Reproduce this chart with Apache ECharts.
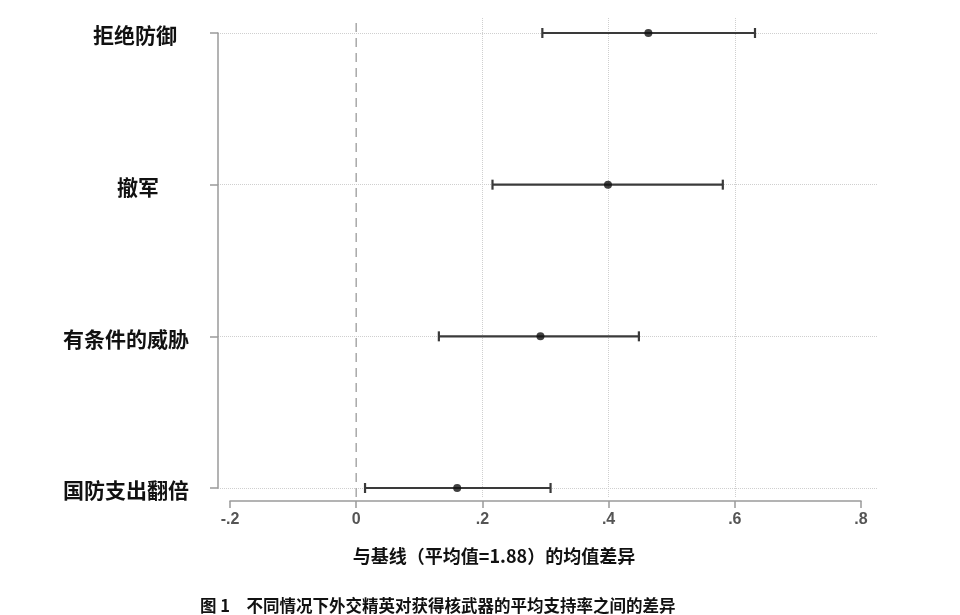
<!DOCTYPE html>
<html>
<head>
<meta charset="utf-8">
<script src="https://cdn.jsdelivr.net/npm/echarts@6/dist/echarts.min.js"></script>
<style>html,body{margin:0;padding:0;background:#fff}#c{width:960px;height:615px}</style>
</head>
<body>
<div id="c"></div>
<script>
var categories = ['拒绝防御', '撤军', '有条件的威胁', '国防支出翻倍'];
var means = [0.463, 0.399, 0.292, 0.160];
var lower = [0.295, 0.216, 0.131, 0.014];
var upper = [0.632, 0.581, 0.448, 0.308];
var xTicks = [-0.2, 0, 0.2, 0.4, 0.6, 0.8];
var xTickLabels = ['-.2', '0', '.2', '.4', '.6', '.8'];
var referenceValue = 0;
var xTitle = '与基线（平均值=1.88）的均值差异';
var caption = '图 1　不同情况下外交精英对获得核武器的平均支持率之间的差异';

var chart = echarts.init(document.getElementById('c'), null, {renderer: 'canvas'});

var errData = categories.map(function (c, i) { return [lower[i], upper[i], i]; });
var meanData = categories.map(function (c, i) { return [means[i], i]; });

var labelBase = {fontFamily: 'Noto Sans CJK SC', fontSize: 21, fontWeight: 'bold', color: '#111'};
var labelRich = {
  r0: Object.assign({padding: [5, 12, 0, 0]}, labelBase),
  r1: Object.assign({padding: [5, 30, 0, 0]}, labelBase),
  r2: Object.assign({padding: [5, 0, 0, 0]}, labelBase),
  r3: Object.assign({padding: [5, 0, 0, 0]}, labelBase)
};

var option = {
  backgroundColor: '#ffffff',
  animation: false,
  title: [
    {text: xTitle, left: 489, top: 542, textAlign: 'center',
     textStyle: {fontFamily: 'Noto Sans CJK SC', fontSize: 18, fontWeight: 'bold', color: '#111'}},
    {text: caption, left: 195, top: 592,
     textStyle: {fontFamily: 'Noto Sans CJK SC', fontSize: 16.5, fontWeight: 'bold', color: '#111'}}
  ],
  grid: [
    {left: 218, right: 83, top: 33, bottom: 127},
    {left: 230, right: 99, top: 33, bottom: 127},
    {left: 230, right: 99, top: 18, bottom: 118}
  ],
  xAxis: [
    {gridIndex: 0, type: 'value', min: 0, max: 1, show: false},
    {gridIndex: 1, type: 'value', min: -0.2, max: 0.8, interval: 0.2,
     offset: 13,
     axisLine: {show: true, lineStyle: {color: '#9a9a9a', width: 1.5}},
     axisTick: {show: true, inside: false, length: 7, lineStyle: {color: '#9a9a9a', width: 1.5}},
     splitLine: {show: false},
     axisLabel: {margin: 11, fontFamily: 'Liberation Sans', fontSize: 16, fontWeight: 'bold', color: '#555',
       formatter: function (v) {
         for (var k = 0; k < xTicks.length; k++) { if (Math.abs(xTicks[k] - v) < 1e-6) return xTickLabels[k]; }
         return '';
       }}},
    {gridIndex: 2, type: 'value', min: -0.2, max: 0.8, interval: 0.2,
     axisLine: {show: false}, axisTick: {show: false}, axisLabel: {show: false},
     splitLine: {show: true, lineStyle: {type: 'dotted', width: 1,
       color: ['rgba(0,0,0,0)', 'rgba(0,0,0,0)', '#cfcfcf', '#cfcfcf', '#cfcfcf', 'rgba(0,0,0,0)']}}}
  ],
  yAxis: [
    {gridIndex: 0, type: 'category', data: categories, inverse: true, boundaryGap: false,
     axisLine: {show: true, lineStyle: {color: '#9a9a9a', width: 1.5}},
     axisTick: {show: true, inside: false, length: 8, lineStyle: {color: '#9a9a9a', width: 1.5}},
     splitLine: {show: true, lineStyle: {type: 'dotted', color: '#cfcfcf', width: 1}},
     axisLabel: {margin: 29, align: 'right', rich: labelRich,
       formatter: function (v, i) { return '{r' + i + '|' + v + '}'; }}},
    {gridIndex: 1, type: 'category', data: categories, inverse: true, boundaryGap: false, show: false},
    {gridIndex: 2, type: 'value', min: 0, max: 1, show: false}
  ],
  series: [
    {type: 'line', xAxisIndex: 2, yAxisIndex: 2, symbol: 'none', silent: true,
     data: [[referenceValue, 0], [referenceValue, 1]],
     lineStyle: {color: '#a8a8a8', width: 1.5, type: [9, 6]}},
    {type: 'custom', xAxisIndex: 1, yAxisIndex: 1, data: errData,
     encode: {x: [0, 1], y: 2},
     renderItem: function (params, api) {
       var p0 = api.coord([api.value(0), api.value(2)]);
       var p1 = api.coord([api.value(1), api.value(2)]);
       var h = 5;
       var st = {stroke: '#3a3a3a', lineWidth: 2.2};
       return {type: 'group', children: [
         {type: 'line', shape: {x1: p0[0], y1: p0[1], x2: p1[0], y2: p1[1]}, style: st},
         {type: 'line', shape: {x1: p0[0], y1: p0[1] - h, x2: p0[0], y2: p0[1] + h}, style: st},
         {type: 'line', shape: {x1: p1[0], y1: p1[1] - h, x2: p1[0], y2: p1[1] + h}, style: st}
       ]};
     }},
    {type: 'scatter', xAxisIndex: 1, yAxisIndex: 1, data: meanData, symbol: 'circle', symbolSize: 8,
     itemStyle: {color: '#111'}}
  ]
};
chart.setOption(option);
</script>
</body>
</html>
